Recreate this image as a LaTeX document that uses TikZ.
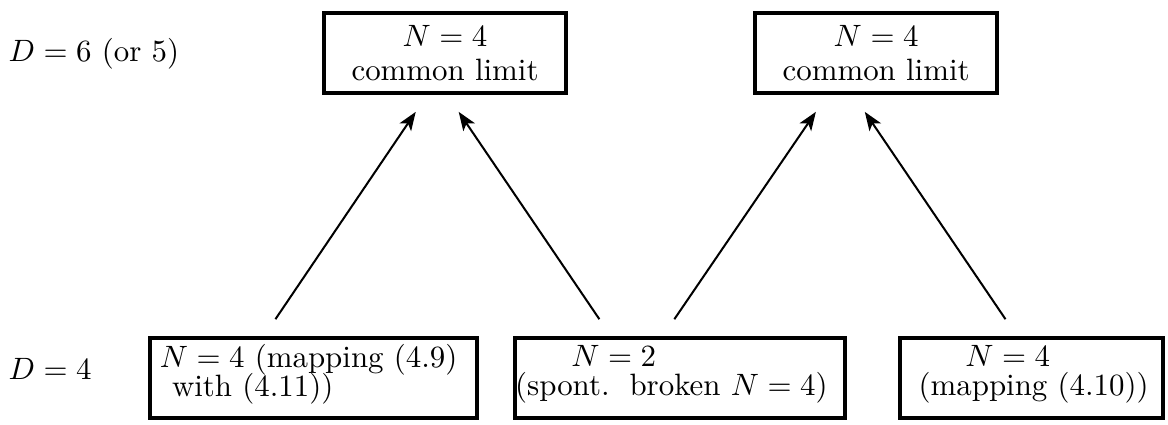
\documentclass[tikz,border=0pt]{standalone}
\usetikzlibrary{arrows.meta}
\begin{document}
\begin{tikzpicture}[scale=1,
    box/.style={draw,line width=1.4pt,inner sep=0pt,minimum height=0.91cm},
    low/.style={box,align=flush left,execute at end node={\vspace{2.5pt}}},
    up/.style={-{Stealth[length=6pt,width=4.5pt,inset=1.5pt]},line width=0.65pt,shorten <=0.23cm,shorten >=0.23cm}]
    \useasboundingbox (0,0) rectangle (13.29,4.825);
    \node[anchor=base west,inner sep=0pt] (d6) at (0.09,4.12) {$D=6$ (or 5)};
    \node[anchor=base west,inner sep=0pt] (d4) at (0.09,0.51) {$D=4$};
    \node[box,text width=2.754cm,align=flush center] (top1) at (5.064,4.222) {$N=4$\\[-1.2pt] common limit};
    \node[box,text width=2.754cm,align=flush center] (top2) at (9.969,4.222) {$N=4$\\[-1.2pt] common limit};
    \node[low,text width=3.72cm] (bot1) at (3.568,0.523) {\hspace*{0.11cm}$N=4$ (mapping (4.9)\\[-2.6pt]\hspace*{0.25cm}with (4.11))};
    \node[low,text width=3.755cm] (bot2) at (7.738,0.523) {\hspace*{0.64cm}$N=2$\\[-2.6pt](spont.\hspace{2pt} broken $N=4$)};
    \node[low,text width=2.99cm] (bot3) at (11.738,0.523) {\hspace*{0.74cm}$N=4$\\[-2.6pt]\hspace*{0.21cm}(mapping (4.10))};
    \draw[up] ([xshift=-0.563cm]bot1.north) -- ([xshift=-0.205cm]top1.south);
    \draw[up] ([xshift=-0.789cm]bot2.north) -- ([xshift=0.026cm]top1.south);
    \draw[up] ([xshift=-0.195cm]bot2.north) -- ([xshift=-0.556cm]top2.south);
    \draw[up] ([xshift=-0.168cm]bot3.north) -- ([xshift=-0.258cm]top2.south);
\end{tikzpicture}
\end{document}
